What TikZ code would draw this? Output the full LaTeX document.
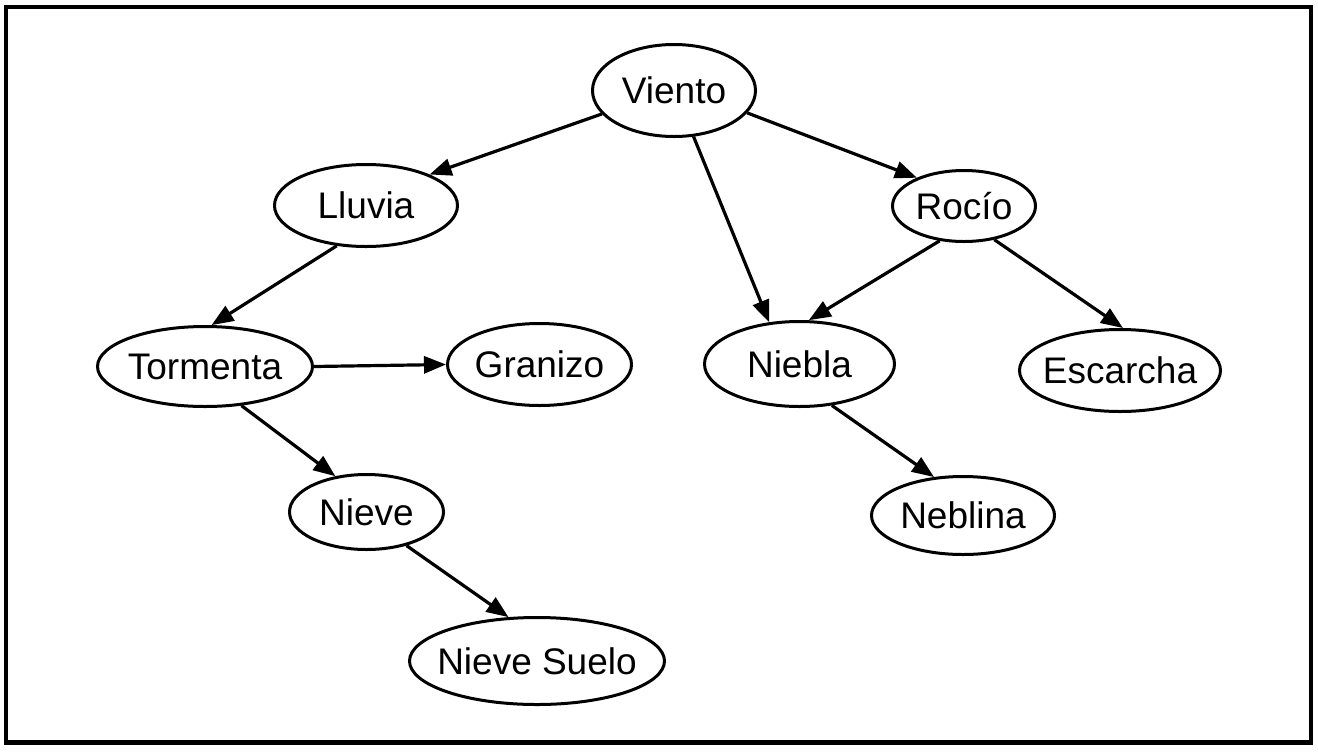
\documentclass[tikz,border=0pt]{standalone}
\usepackage{fontspec}
\setmainfont{Liberation Sans}
\usetikzlibrary{shapes.geometric,arrows.meta}

\begin{document}
\begin{tikzpicture}[x=0.5pt,y=-0.5pt,
    font=\fontsize{18.5}{22}\selectfont,
    elipse/.style={draw,black,line width=1.5pt,ellipse,inner sep=0pt},
    flecha/.style={draw,line width=1.6pt,-{Triangle[length=11pt,width=8.5pt]}}]
    \useasboundingbox (0,0) rectangle (1318,751);
    \draw[line width=2.2pt] (6,7) rectangle (1311,742.5);
    \node[elipse,minimum width=81.5pt,minimum height=46pt,label=center:Viento] (viento) at (674,90.5) {};
    \node[elipse,minimum width=91.5pt,minimum height=41pt,label=center:Lluvia] (lluvia) at (366,205.5) {};
    \node[elipse,minimum width=71.5pt,minimum height=35.5pt,label=center:Rocío] (rocio) at (964,206) {};
    \node[elipse,minimum width=107.5pt,minimum height=40pt,label=center:Tormenta] (tormenta) at (205,366.5) {};
    \node[elipse,minimum width=92pt,minimum height=41pt,label=center:Granizo] (granizo) at (539.5,364.5) {};
    \node[elipse,minimum width=95pt,minimum height=42.5pt,label=center:Niebla] (niebla) at (799.5,364) {};
    \node[elipse,minimum width=100.5pt,minimum height=41pt,label=center:Escarcha] (escarcha) at (1120,370.5) {};
    \node[elipse,minimum width=77pt,minimum height=37.5pt,label=center:Nieve] (nieve) at (366.5,512) {};
    \node[elipse,minimum width=91.5pt,minimum height=39pt,label=center:Neblina] (neblina) at (963,515.5) {};
    \node[elipse,minimum width=127.5pt,minimum height=43.5pt,label={center:Nieve Suelo}] (suelo) at (537,661) {};

    \draw[flecha] (viento.198) -- (lluvia.26);
    \draw[flecha] (viento.343) -- (rocio.149);
    \draw[flecha] (viento.293) -- (niebla.126);
    \draw[flecha] (lluvia.234) -- (tormenta.81);
    \draw[flecha] (tormenta.east) -- (granizo.west);
    \draw[flecha] (tormenta.313) -- (nieve.131);
    \draw[flecha] (nieve.320) -- (suelo.123);
    \draw[flecha] (rocio.235) -- (niebla.78);
    \draw[flecha] (rocio.312) -- (escarcha.86);
    \draw[flecha] (niebla.308) -- (neblina.127);
\end{tikzpicture}
\end{document}
